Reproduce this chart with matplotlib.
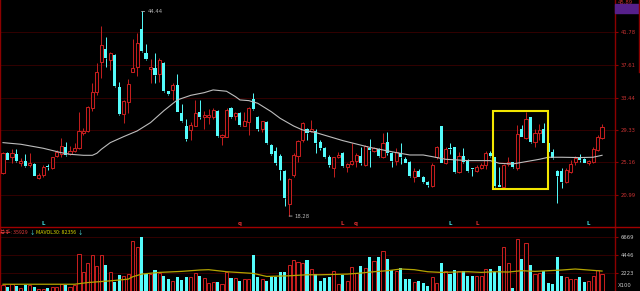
import matplotlib
matplotlib.use("Agg")
from matplotlib import pyplot as plt
from matplotlib.lines import Line2D
from matplotlib.patches import Rectangle
import numpy as np

# daily candles (one row per day)
opens = [23.75, 26.31, 25.80, 26.22, 25.03, 25.29, 24.86, 24.99, 23.20, 23.58,
         24.69, 24.39, 26.01, 26.22, 27.16, 26.22, 26.65, 26.95, 28.86, 29.20,
         32.06, 34.10, 37.99, 39.61, 38.20, 38.89, 34.83, 31.34, 32.91, 36.75,
         37.39, 42.16, 39.18, 37.10, 37.26, 36.45, 37.82, 34.28, 34.40, 35.04,
         31.50, 29.75, 29.33, 29.84, 31.55, 30.90, 30.90, 30.90, 31.76, 28.35,
         28.44, 32.15, 31.08, 31.42, 29.80, 30.35, 33.20, 30.99, 29.41, 30.35,
         27.41, 26.65, 25.97, 24.05, 19.86, 23.54, 25.97, 28.01, 29.38, 29.20,
         29.20, 27.80, 26.95, 25.80, 24.39, 25.80, 26.39, 24.52, 24.95, 25.29,
         25.97, 24.82, 26.95, 26.65, 26.82, 25.80, 27.80, 26.39, 25.37, 26.31,
         25.54, 25.24, 23.24, 24.09, 23.24, 22.68, 22.13, 25.80, 29.80, 25.12,
         26.95, 27.07, 23.97, 25.97, 25.37, 24.39, 24.09, 24.39, 24.82, 26.31,
         25.80, 22.26, 21.96, 24.95, 25.16, 24.39, 29.38, 28.22, 30.90, 27.80,
         28.86, 29.38, 27.67, 26.52, 24.09, 24.09, 22.68, 23.97, 25.24, 25.80,
         25.54, 25.12, 25.24, 26.74, 28.22]
highs = [26.50, 26.50, 26.87, 26.87, 25.67, 26.22, 26.31, 25.03, 23.75, 24.80,
         24.95, 25.88, 26.74, 28.23, 27.72, 27.29, 27.59, 31.63, 29.50, 32.30,
         35.26, 37.82, 42.59, 41.14, 39.30, 38.97, 35.47, 33.10, 35.81, 40.89,
         41.65, 44.44, 40.24, 38.33, 39.10, 38.46, 38.03, 34.32, 35.26, 36.45,
         32.62, 30.69, 30.35, 33.12, 33.12, 31.76, 31.93, 32.06, 31.85, 28.78,
         32.06, 32.27, 31.63, 31.63, 31.63, 32.19, 33.97, 31.12, 30.48, 30.48,
         27.50, 27.07, 26.18, 24.18, 23.10, 26.31, 28.01, 30.36, 29.50, 30.57,
         29.38, 28.01, 27.16, 26.10, 25.88, 26.52, 26.52, 25.12, 27.58, 26.39,
         27.16, 27.37, 28.10, 27.07, 26.95, 28.86, 29.07, 26.52, 26.95, 27.58,
         25.80, 25.33, 24.39, 24.26, 23.41, 22.81, 25.03, 27.24, 29.80, 27.07,
         27.67, 27.16, 26.52, 26.95, 25.54, 24.39, 24.82, 25.12, 26.65, 26.65,
         25.88, 24.60, 24.90, 25.80, 25.24, 29.92, 29.92, 31.63, 30.99, 29.38,
         30.05, 30.23, 27.80, 26.82, 24.18, 24.39, 24.39, 25.46, 25.97, 26.22,
         25.67, 25.46, 27.16, 28.65, 30.05]
lows = [23.70, 25.40, 25.03, 25.20, 24.73, 24.60, 24.60, 23.40, 23.00, 23.30,
        24.18, 24.35, 25.88, 25.88, 26.01, 26.10, 26.52, 26.87, 28.65, 29.07,
        31.76, 33.76, 35.90, 37.39, 37.00, 34.75, 31.20, 30.14, 31.42, 36.70,
        36.20, 39.30, 38.25, 35.26, 35.26, 35.47, 34.20, 33.76, 33.12, 31.55,
        30.35, 27.84, 27.97, 29.75, 30.69, 29.40, 30.05, 30.65, 28.44, 27.37,
        28.35, 30.78, 30.56, 29.80, 29.75, 28.60, 31.85, 29.20, 28.99, 27.50,
        26.14, 24.82, 22.90, 19.58, 18.28, 23.24, 25.25, 27.80, 28.01, 29.07,
        26.39, 26.74, 25.67, 24.60, 23.33, 25.67, 24.60, 23.97, 24.82, 24.60,
        24.82, 24.69, 24.60, 26.52, 25.88, 25.67, 26.10, 24.60, 24.82, 24.95,
        25.03, 23.33, 22.68, 23.24, 22.55, 21.96, 21.96, 25.54, 25.03, 24.95,
        26.22, 23.84, 23.84, 25.12, 23.97, 23.41, 23.97, 24.26, 24.26, 25.80,
        21.96, 21.96, 21.84, 24.69, 24.39, 24.18, 28.35, 28.10, 27.67, 27.16,
        28.01, 27.58, 26.31, 25.54, 19.91, 21.84, 22.55, 23.84, 24.82, 25.24,
        25.03, 24.82, 25.12, 26.65, 28.10]
closes = [26.40, 25.46, 26.31, 25.29, 25.29, 24.69, 25.03, 23.45, 23.54, 24.60,
          24.52, 25.80, 26.52, 27.29, 26.10, 26.65, 26.95, 29.20, 29.20, 32.19,
          34.10, 36.75, 40.16, 38.46, 39.18, 34.92, 31.34, 33.00, 35.17, 37.26,
          40.37, 39.44, 38.33, 37.30, 36.32, 38.25, 34.32, 33.85, 35.04, 31.63,
          30.48, 28.12, 29.88, 31.50, 31.00, 31.20, 31.20, 31.85, 28.52, 28.61,
          31.85, 30.90, 31.42, 29.88, 30.44, 32.06, 31.93, 29.41, 30.39, 27.58,
          26.26, 25.12, 24.18, 20.56, 22.99, 26.10, 27.88, 30.23, 28.86, 29.38,
          27.67, 26.95, 25.88, 24.82, 25.80, 26.10, 24.69, 24.95, 25.37, 26.10,
          25.03, 27.24, 26.74, 26.95, 25.97, 27.67, 26.31, 25.37, 26.52, 25.80,
          25.12, 23.41, 24.09, 23.33, 22.68, 22.26, 24.82, 27.07, 25.12, 26.82,
          26.82, 23.97, 25.97, 25.24, 24.09, 24.26, 24.60, 24.82, 26.31, 25.97,
          22.13, 21.96, 24.82, 25.24, 24.52, 28.78, 28.44, 30.65, 27.80, 28.86,
          29.29, 27.67, 26.52, 25.67, 23.41, 22.68, 24.18, 24.95, 25.67, 25.46,
          25.12, 25.37, 26.82, 28.35, 29.63]
volumes = [707, 541, 832, 624, 374, 707, 749, 458, 291, 291,
           374, 541, 541, 832, 749, 541, 707, 4576, 2288, 3453,
           4451, 3120, 4451, 3203, 2288, 1123, 1955, 1872, 2080, 6157,
           5408, 6656, 2080, 2080, 2621, 2205, 1789, 1456, 1248, 1747,
           1373, 1664, 1664, 2163, 1872, 1539, 957, 1165, 1123, 832,
           2288, 1622, 1539, 1206, 1456, 1456, 4368, 1747, 1456, 1206,
           1664, 1664, 2288, 2371, 3203, 3869, 3536, 3453, 3869, 2704,
           2038, 1206, 1622, 1747, 2454, 832, 1955, 1206, 2995, 2205,
           3037, 2870, 4202, 3661, 4202, 4867, 3994, 2621, 2496, 2829,
           1456, 1456, 1165, 1206, 957, 624, 1747, 1040, 3411, 2413,
           2122, 2538, 2413, 2413, 1830, 1830, 1789, 1789, 2704, 2704,
           2371, 3120, 5408, 3453, 416, 6406, 3952, 5907, 3245, 2080,
           2205, 2496, 1040, 915, 4160, 1789, 1747, 1456, 1456, 1747,
           1123, 1206, 1830, 2621, 2038]

# moving average of price (grey line), read at these days
ma_days = [0, 4, 9, 13, 15, 18, 20, 21, 22, 24, 27, 30, 33, 36, 39, 42, 45, 47,
           50, 52, 53, 55, 57, 60, 62, 65, 67, 70, 73, 76, 79, 82, 85, 88, 91,
           94, 96, 99, 104, 109, 111, 114, 117, 120, 122, 125, 129, 132, 134]
ma_vals = [27.67, 27.46, 26.95, 26.39, 26.18, 26.05, 26.05, 26.31, 26.82, 27.67,
           28.44, 29.16, 30.23, 31.76, 33.13, 33.72, 34.06, 34.41, 34.24, 33.55,
           33.13, 33.04, 32.70, 31.63, 30.78, 29.80, 29.29, 28.95, 28.44, 27.93,
           27.50, 27.07, 26.73, 26.39, 26.09, 26.09, 25.88, 25.54, 25.37, 25.37,
           25.03, 24.94, 25.24, 25.54, 25.80, 25.80, 25.76, 25.80, 26.05]

# MAVOL30 (yellow line in volume panel)
vma_days = [0, 16, 19, 24, 28, 29, 31, 35, 40, 44, 46, 50, 56, 59, 64, 68, 71,
            77, 80, 83, 86, 89, 92, 95, 98, 101, 104, 107, 110, 113, 116, 119,
            122, 125, 128, 131, 134]
vma_vals = [832, 832, 1040, 1248, 1456, 1747, 2080, 2288, 2413, 2579, 2621,
            2371, 2163, 1789, 1872, 1997, 1997, 2080, 2205, 2371, 2496, 2704,
            2621, 2371, 2288, 2330, 2371, 2288, 2371, 2330, 2496, 2413, 2496,
            2579, 2704, 2579, 2454]

price_ticks = [41.78, 37.61, 33.44, 29.33, 25.16, 20.99]
vol_ticks = [6669, 4446, 2223]
signals = [(9, "L", "#40e0e0"), (53, "q", "#e03030"), (76, "L", "#e03030"),
           (79, "q", "#e03030"), (100, "L", "#40e0e0"), (106, "L", "#e03030"),
           (131, "L", "#40e0e0")]
box_days = (109.5, 121.9)
box_prices = (21.74, 31.72)

UP = "#c41e1e"
DOWN = "#54fcfc"
GRID = "#3a0000"
AXIS = "#8c0000"
LABEL = "#c83232"

opens = np.array(opens)
closes = np.array(closes)
highs = np.array(highs)
lows = np.array(lows)
volumes = np.array(volumes)
days = np.arange(len(opens))
rising = closes >= opens

fig = plt.figure(figsize=(6.4, 2.91), dpi=100, facecolor="black")
W, H = 640.0, 291.0
ax = fig.add_axes([0, 64 / H, 615 / W, 227 / H], facecolor="black")
axv = fig.add_axes([0, 0, 615 / W, 64 / H], facecolor="black")

for axis in (ax, axv):
    axis.set_xlim(-0.67, 136.9)
    axis.set_xticks([])
    for side in ("top", "bottom"):
        axis.spines[side].set_visible(False)
    for side in ("left", "right"):
        axis.spines[side].set_color(AXIS)
        axis.spines[side].set_linewidth(1.0)
    axis.yaxis.tick_right()
    axis.tick_params(axis="y", length=2, color=AXIS, pad=2, labelsize=3.8)

# price panel
ax.set_ylim(16.88, 45.91)
for p in price_ticks:
    ax.axhline(p, color=GRID, lw=0.6, zorder=0)
ax.set_yticks(price_ticks)
ax.set_yticklabels(["%.2f" % p for p in price_ticks])
ax.tick_params(axis="y", labelcolor=LABEL)

body_lo = np.minimum(opens, closes)
body_hi = np.maximum(opens, closes)
body_h = np.maximum(body_hi - body_lo, 0.08)
colors = np.where(rising, UP, DOWN)
ax.vlines(days, body_hi, highs, colors=colors, lw=0.7, zorder=2)
ax.vlines(days, lows, body_lo, colors=colors, lw=0.7, zorder=2)
ax.bar(days[rising], body_h[rising], bottom=body_lo[rising], width=0.7,
       facecolor="black", edgecolor=UP, lw=0.75, zorder=3)
ax.bar(days[~rising], body_h[~rising], bottom=body_lo[~rising], width=0.7,
       color=DOWN, lw=0, zorder=3)

ax.plot(ma_days, ma_vals, color="#bdbdbd", lw=0.8, zorder=4)

# highest / lowest price tags
i_hi = int(np.argmax(highs))
i_lo = int(np.argmin(lows))
for i, v in ((i_hi, highs[i_hi]), (i_lo, lows[i_lo])):
    ax.annotate("%.2f" % v, xy=(i, v), xytext=(i + 1.3, v), color="#b4b4b4",
                fontsize=3.8, va="center", ha="left",
                arrowprops=dict(arrowstyle="-", color="#b4b4b4", lw=0.6,
                                shrinkA=0, shrinkB=0))

for i, s, c in signals:
    ax.text(i, 17.3, s, color=c, fontsize=4, fontweight="bold",
            ha="center", va="center")

ax.add_patch(Rectangle((box_days[0], box_prices[0]), box_days[1] - box_days[0],
                       box_prices[1] - box_prices[0], fill=False,
                       edgecolor="#f2e600", lw=1.5, zorder=5))

# labels at the very top right (the top one is cut by the edge, as shown)
ax.text(1.004, 45.6, "45.89", color=LABEL, fontsize=3.8, va="center",
        transform=ax.get_yaxis_transform(), clip_on=False)
fig.patches.append(Rectangle((615 / W, (H - 12.5) / H), 25 / W, 8 / H,
                             transform=fig.transFigure, color="#56208a"))
ax.text(1.004, 44.81, "44.81", color="#ff9a9a", fontsize=3.8, va="center",
        transform=ax.get_yaxis_transform(), clip_on=False)

# volume panel
axv.set_ylim(0, 7870)
for v in vol_ticks:
    axv.axhline(v, color=GRID, lw=0.6, zorder=0)
axv.set_yticks(vol_ticks)
axv.set_yticklabels([str(v) for v in vol_ticks])
axv.tick_params(axis="y", labelcolor="#c8c8c8")
axv.text(1.004, 650, "X100", color="#c8c8c8", fontsize=3.8, va="center",
         transform=axv.get_yaxis_transform(), clip_on=False)

axv.bar(days[rising], volumes[rising], width=0.7, facecolor="black",
        edgecolor=UP, lw=0.75, zorder=2)
axv.bar(days[~rising], volumes[~rising], width=0.7, color=DOWN, lw=0, zorder=2)
axv.plot(vma_days, vma_vals, color="#b4a400", lw=0.9, zorder=3)

# legend line of the volume panel, pieces laid out one after another
cjk = ["Noto Sans CJK SC", "DejaVu Sans"]
pieces = [("总手: 35929", "#e03a3a"), ("↓", DOWN),
          ("MAVOL30: 82356", "#d8d800"), ("↓", DOWN)]
renderer = fig.canvas.get_renderer()
x_px = 0.0
for s, c in pieces:
    t = fig.text(x_px / W, (H - 232) / H, s, color=c, fontsize=3.8,
                 family=cjk, va="center", ha="left")
    x_px = t.get_window_extent(renderer).x1 + 1.5

# separator and outer frame lines
fig.add_artist(Line2D([0, 1], [64 / H, 64 / H], color="#a00000", lw=1.0,
                      transform=fig.transFigure))
fig.add_artist(Line2D([638.5 / W, 638.5 / W], [1, (H - 72) / H], color=AXIS,
                      lw=1.0, transform=fig.transFigure))

plt.savefig("out.png", dpi=100, facecolor="black")
